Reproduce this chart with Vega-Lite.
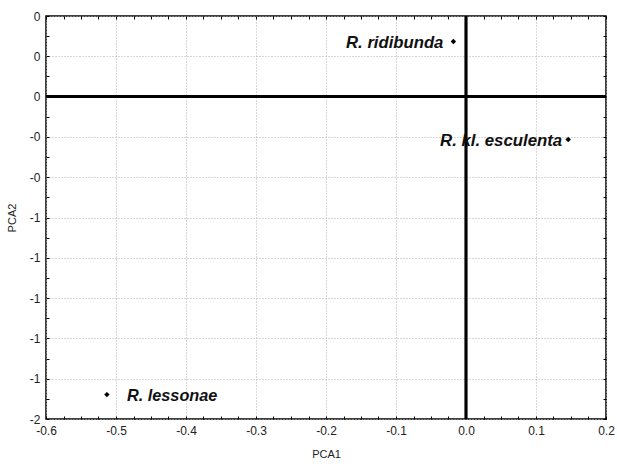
{
  "$schema": "https://vega.github.io/schema/vega-lite/v6.json",
  "autosize": {"type": "none"},
  "width": 560,
  "height": 403,
  "padding": {"left": 46, "top": 16, "right": 11, "bottom": 48},
  "background": "white",
  "config": {
    "view": {"stroke": "black", "strokeWidth": 1.5},
    "font": "Liberation Sans",
    "axis": {
      "labelFont": "Liberation Sans",
      "labelFontSize": 12,
      "labelColor": "#222",
      "titleFont": "Liberation Sans",
      "titleFontSize": 11,
      "titleFontWeight": "normal",
      "titleColor": "#222",
      "tickColor": "black",
      "domain": false,
      "labelFlush": false
    }
  },
  "data": {
    "values": [
      {"species": "R. ridibunda", "PCA1": -0.018, "PCA2": 0.273},
      {"species": "R. kl. esculenta", "PCA1": 0.146, "PCA2": -0.213},
      {"species": "R. lessonae", "PCA1": -0.513, "PCA2": -1.479}
    ]
  },
  "layer": [
    {
      "mark": {"type": "point", "opacity": 0},
      "encoding": {
        "x": {"field": "PCA1", "type": "quantitative",
          "scale": {"domain": [-0.6, 0.2], "nice": false, "zero": false},
          "axis": {
            "orient": "bottom", "title": null, "labels": false, "ticks": false,
            "grid": true, "gridColor": "#b0b0b0", "gridDash": [1, 2],
            "values": [-0.6,-0.5,-0.4,-0.3,-0.2,-0.1,0,0.1,0.2]
          }
        },
        "y": {"field": "PCA2", "type": "quantitative",
          "scale": {"domain": [-1.6, 0.4], "nice": false, "zero": false},
          "axis": {
            "orient": "left", "title": null, "labels": false, "ticks": false,
            "grid": true, "gridColor": "#b0b0b0", "gridDash": [1, 2],
            "values": [0.4,0.2,0,-0.2,-0.4,-0.6,-0.8,-1.0,-1.2,-1.4,-1.6]
          }
        }
      }
    },
    {
      "mark": {"type": "point", "opacity": 0},
      "encoding": {
        "x": {"field": "PCA1", "type": "quantitative",
          "axis": {
            "orient": "bottom",
            "title": "PCA1",
            "titlePadding": 12,
            "values": [-0.6,-0.575,-0.55,-0.525,-0.5,-0.475,-0.45,-0.425,-0.4,-0.375,-0.35,-0.325,-0.3,-0.275,-0.25,-0.225,-0.2,-0.175,-0.15,-0.125,-0.1,-0.075,-0.05,-0.025,0,0.025,0.05,0.075,0.1,0.125,0.15,0.175,0.2],
            "labelExpr": "abs(datum.value*10 - round(datum.value*10)) < 1e-6 ? (datum.value < -1e-9 ? '-' + format(abs(datum.value), '.1f') : format(abs(datum.value), '.1f')) : ''",
            "tickSize": -3,
            "labelPadding": 9,
            "labelOverlap": false,
            "labelFlush": false,
            "grid": false
          }
        },
        "y": {"field": "PCA2", "type": "quantitative",
          "axis": {
            "orient": "left",
            "title": "PCA2",
            "titlePadding": 12,
            "values": [0.4,0.3,0.2,0.1,0,-0.1,-0.2,-0.3,-0.4,-0.5,-0.6,-0.7,-0.8,-0.9,-1.0,-1.1,-1.2,-1.3,-1.4,-1.5,-1.6],
            "labelExpr": "abs(datum.value*5 - round(datum.value*5)) < 1e-6 ? (datum.value < -1e-9 ? '-' + format(abs(datum.value), '.0f') : format(abs(datum.value), '.0f')) : ''",
            "tickSize": -3,
            "labelPadding": 9,
            "labelOverlap": false,
            "labelFlush": false,
            "grid": false
          }
        }
      }
    },
    {
      "mark": {"type": "point", "opacity": 0},
      "encoding": {
        "x": {"field": "PCA1", "type": "quantitative",
          "axis": {
            "orient": "top", "title": null, "labels": false, "grid": false, "tickSize": -3,
            "values": [-0.6,-0.575,-0.55,-0.525,-0.5,-0.475,-0.45,-0.425,-0.4,-0.375,-0.35,-0.325,-0.3,-0.275,-0.25,-0.225,-0.2,-0.175,-0.15,-0.125,-0.1,-0.075,-0.05,-0.025,0,0.025,0.05,0.075,0.1,0.125,0.15,0.175,0.2]
          }
        },
        "y": {"field": "PCA2", "type": "quantitative",
          "axis": {
            "orient": "right", "title": null, "labels": false, "grid": false, "tickSize": -3,
            "values": [0.4,0.3,0.2,0.1,0,-0.1,-0.2,-0.3,-0.4,-0.5,-0.6,-0.7,-0.8,-0.9,-1.0,-1.1,-1.2,-1.3,-1.4,-1.5,-1.6]
          }
        }
      }
    },
    {
      "mark": {"type": "rule", "color": "black", "strokeWidth": 2.5},
      "encoding": {"x": {"datum": 0, "type": "quantitative", "axis": null}}
    },
    {
      "mark": {"type": "rule", "color": "black", "strokeWidth": 2.5},
      "encoding": {"y": {"datum": 0, "type": "quantitative", "axis": null}}
    },
    {
      "mark": {"type": "point", "shape": "diamond", "filled": true, "color": "black", "size": 30, "opacity": 1},
      "encoding": {
        "x": {"field": "PCA1", "type": "quantitative", "axis": null},
        "y": {"field": "PCA2", "type": "quantitative", "axis": null}
      }
    },
    {
      "transform": [{"filter": "datum.species === 'R. ridibunda'"}],
      "mark": {"type": "text", "align": "right", "baseline": "middle", "dx": -10, "dy": 1, "font": "Liberation Sans", "fontSize": 16.7, "fontWeight": "bold", "fontStyle": "italic", "color": "#111"},
      "encoding": {
        "x": {"field": "PCA1", "type": "quantitative", "axis": null},
        "y": {"field": "PCA2", "type": "quantitative", "axis": null},
        "text": {"field": "species"}
      }
    },
    {
      "transform": [{"filter": "datum.species === 'R. kl. esculenta'"}],
      "mark": {"type": "text", "align": "right", "baseline": "middle", "dx": -6, "dy": 1, "font": "Liberation Sans", "fontSize": 16.8, "fontWeight": "bold", "fontStyle": "italic", "color": "#111"},
      "encoding": {
        "x": {"field": "PCA1", "type": "quantitative", "axis": null},
        "y": {"field": "PCA2", "type": "quantitative", "axis": null},
        "text": {"field": "species"}
      }
    },
    {
      "transform": [{"filter": "datum.species === 'R. lessonae'"}],
      "mark": {"type": "text", "align": "left", "baseline": "middle", "dx": 20, "dy": 1, "font": "Liberation Sans", "fontSize": 16.3, "fontWeight": "bold", "fontStyle": "italic", "color": "#111"},
      "encoding": {
        "x": {"field": "PCA1", "type": "quantitative", "axis": null},
        "y": {"field": "PCA2", "type": "quantitative", "axis": null},
        "text": {"field": "species"}
      }
    }
  ],
  "resolve": {"axis": {"x": "independent", "y": "independent"}}
}
